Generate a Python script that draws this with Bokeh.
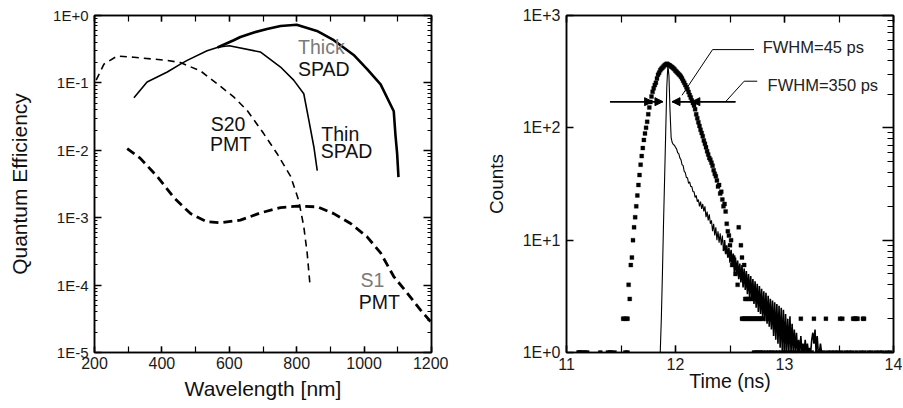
from bokeh.plotting import figure
from bokeh.layouts import row
from bokeh.models import (LinearAxis, LogAxis, Range1d, SingleIntervalTicker, LogTicker,
                          CustomJSTickFormatter, Arrow, NormalHead, Label)
from bokeh.embed import file_html
from bokeh.resources import INLINE

FONT = "Liberation Sans"

# ---------------- Left panel data: quantum efficiency vs wavelength ----------------
thin_spad_wl = [317, 356, 416, 455, 475, 534, 569, 600, 692, 752, 791, 821, 836, 851, 861]
thin_spad_qe = [0.06, 0.103, 0.145, 0.19, 0.216, 0.30, 0.34, 0.355, 0.288, 0.172, 0.11, 0.069, 0.028, 0.0112, 0.005]

thick_spad_wl = [565, 613, 633, 673, 712, 752, 800, 860, 910, 969, 1009, 1049, 1088, 1093, 1098, 1102]
thick_spad_qe = [0.335, 0.43, 0.48, 0.56, 0.63, 0.70, 0.73, 0.59, 0.43, 0.26, 0.16, 0.095, 0.038, 0.017, 0.009, 0.004]

s20_wl = [205, 228, 267, 317, 416, 455, 515, 564, 613, 653, 702, 742, 782, 806, 821, 831, 839]
s20_qe = [0.11, 0.19, 0.25, 0.24, 0.216, 0.2, 0.15, 0.097, 0.062, 0.039, 0.0177, 0.0089, 0.0041,
          0.0018, 0.00074, 0.0003, 0.000107]

s1_wl = [297, 336, 386, 435, 485, 534, 574, 633, 693, 752, 801, 861, 910, 960, 1009, 1049, 1088, 1128, 1167, 1197]
s1_qe = [0.0106, 0.0076, 0.0041, 0.002, 0.00115, 0.00087, 0.00084, 0.00092, 0.00118, 0.00141,
         0.00148, 0.00145, 0.00115, 0.00082, 0.00052, 0.0003, 0.000134, 0.000076, 0.000043, 0.0000288]

# label texts and anchor points (wavelength, QE)
left_labels = ["Thick", "SPAD", "S20", "PMT", "Thin", "SPAD", "S1", "PMT"]
left_label_x = [804, 804, 545, 543, 873, 871, 989, 984]
left_label_y = [0.34, 0.162, 0.0249, 0.0123, 0.0177, 0.0098, 0.000119, 0.000057]
left_label_gray = [True, False, False, False, False, False, True, False]

# ---------------- Right panel data: counts vs time ----------------
line_t0 = 11.86
line_step = 0.01
line_counts = [1, 2, 5, 14, 35, 90, 230, 362, 290, 140,
               82, 74, 71, 70, 67, 65, 60, 59, 54, 52,
               47, 46, 41, 40, 36, 36, 32, 33, 30, 30,
               27, 27, 24, 25, 22, 23, 20, 22, 19, 21,
               18, 20, 16, 18, 15, 17, 14, 15, 12, 14,
               11, 13, 10, 12, 9.5, 11.5, 9, 11, 8, 10,
               7.5, 9, 7, 8.5, 6.3, 8.2, 5.8, 7.6, 5.2, 7,
               4.9, 6.6, 4.5, 6.2, 4.2, 6, 3.8, 5.6, 3.6, 5.3,
               3.3, 5, 3.1, 4.8, 2.9, 4.5, 2.7, 4.3, 2.5, 4.1,
               2.3, 3.9, 2.2, 3.7, 2, 3.5, 1.9, 3.4, 1.8, 3.2,
               1.7, 3, 1.6, 2.9, 1.4, 2.8, 1.3, 2.7, 1.2, 2.6,
               1.1, 2.5, 1, 2.4, 1, 2.2, 1, 2, 1, 2.1,
               1, 1.8, 1, 1.6, 1, 1.5, 1, 1.3, 1, 1.4,
               1, 1.2, 1, 1.3, 1, 1.2, 1, 1.1, 1, 1.3,
               1.5, 1.2, 1.6, 1, 1.4, 1, 1, 1.2, 1, 1,
               1, 1, 1, 1, 1]
noisy_from = 12.44   # where the tail becomes a dense noisy band

dots_t = [11.52, 11.53, 11.55, 11.56, 11.57, 11.58, 11.59, 11.60, 11.61, 11.62,
          11.63, 11.64, 11.65, 11.66, 11.67, 11.68, 11.69, 11.70, 11.71, 11.72,
          11.73, 11.74, 11.75, 11.76, 11.77, 11.78, 11.79, 11.80, 11.81, 11.82,
          11.83, 11.84, 11.85, 11.86, 11.87, 11.88, 11.89, 11.90, 11.91, 11.92,
          11.93, 11.94, 11.95, 11.96, 11.97, 11.98, 11.99, 12.00, 12.01, 12.02,
          12.03, 12.04, 12.05, 12.06, 12.07, 12.08, 12.09, 12.10, 12.11, 12.12,
          12.13, 12.14, 12.15, 12.16, 12.17, 12.18, 12.19, 12.20, 12.21, 12.22,
          12.23, 12.24, 12.25, 12.26, 12.27, 12.28, 12.29, 12.30, 12.31, 12.32,
          12.33, 12.34, 12.35, 12.36, 12.37, 12.38, 12.39, 12.40, 12.41, 12.42,
          12.43, 12.44, 12.45, 12.46, 12.47, 12.48, 12.49, 12.50, 12.51, 12.52,
          12.53, 12.55, 12.57, 12.58, 12.60, 12.61, 12.63, 12.66,
          12.64, 12.65, 12.67, 12.68, 12.70, 12.72, 12.74, 12.76,
          12.61, 12.62, 12.63, 12.64, 12.65, 12.66, 12.67, 12.68, 12.69, 12.70,
          12.71, 12.72, 12.73, 12.74, 12.75, 12.76, 12.77, 12.78, 12.79, 12.80,
          12.85, 12.86, 12.87, 12.88, 13.15, 13.27, 13.38, 13.51, 13.53, 13.63,
          13.64, 13.65, 13.66, 13.67, 13.72, 13.73]
dots_c = [2, 2, 2, 2, 4, 3, 6, 7, 10, 13,
          16, 20, 25, 31, 38, 47, 56, 66, 78, 89,
          100, 113, 132, 152, 170, 190, 209, 225, 240, 252,
          275, 297, 310, 325, 335, 343, 352, 360, 366, 372,
          368, 362, 358, 352, 346, 340, 332, 322, 315, 308,
          300, 294, 285, 275, 262, 252, 240, 230, 220, 208,
          196, 186, 175, 166, 158, 146, 132, 122, 112, 104,
          96, 90, 84, 77, 72, 67, 62, 58, 54, 52,
          49, 46, 42, 39, 37, 34, 30, 31, 26, 27,
          23, 20, 21, 18, 14, 12, 11, 9, 10, 6,
          7, 5, 4, 13, 9, 7, 6, 4,
          3, 3, 3, 3, 3, 3, 3, 3,
          2, 2, 2, 2, 2, 2, 2, 2, 2, 2,
          2, 2, 2, 2, 2, 2, 2, 2, 2, 2,
          2, 2, 2, 2, 2, 2, 2, 2, 2, 2,
          2, 2, 2, 2, 2, 2]

base_t = [11.11, 11.12, 11.13, 11.15, 11.17, 11.19, 11.31, 11.38, 11.40, 11.41, 11.44, 11.54, 11.56,
          12.72, 12.74, 12.76, 12.78, 12.80, 12.83, 12.86, 12.88, 12.91, 12.94, 12.97, 13.00,
          13.03, 13.05, 13.08, 13.11, 13.14, 13.17, 13.20, 13.22, 13.25, 13.30, 13.33, 13.36,
          13.40, 13.43, 13.46, 13.49, 13.52, 13.56, 13.59, 13.62, 13.66, 13.70, 13.73, 13.77,
          13.80, 13.84, 13.87, 13.90, 13.94, 13.97]
base_c = [1] * len(base_t)

# FWHM annotation geometry (time, counts)
fwhm_level = 171
fwhm_arrows = [(11.40, 11.79), (11.79, 11.885), (12.55, 12.15), (12.15, 11.968)]
leader1_t = [12.72, 12.34, 12.06]
leader1_c = [497, 497, 195]
leader2_t = [12.75, 12.63, 12.46]
leader2_c = [260, 260, 171]
fwhm_texts = ["FWHM=45 ps", "FWHM=350 ps"]
fwhm_text_t = [12.80, 12.845]
fwhm_text_c = [527, 239]

sci_fmt = CustomJSTickFormatter(code="""
const e = Math.round(Math.log10(tick));
return '1E' + (e >= 0 ? '+' : '-') + Math.abs(e);
""")
blank_fmt = CustomJSTickFormatter(code="return '';")


def base_style(p):
    p.grid.visible = False
    p.outline_line_color = "black"
    p.outline_line_width = 1.5
    p.background_fill_color = "white"
    p.border_fill_color = "white"


def style_axis(ax, tick_font, major_in, minor_in, label_font=None, standoff=5, label_standoff=5):
    ax.axis_line_color = "black"
    ax.axis_line_width = 1.5
    ax.major_tick_line_color = "black"
    ax.major_tick_line_width = 1.5
    ax.minor_tick_line_color = "black" if minor_in > 0 else None
    ax.minor_tick_line_width = 1.2
    ax.major_tick_out = 0
    ax.major_tick_in = major_in
    ax.minor_tick_out = 0
    ax.minor_tick_in = minor_in
    ax.major_label_text_font = FONT
    ax.major_label_text_font_size = tick_font
    ax.major_label_text_color = "#1a1a1a"
    ax.major_label_standoff = standoff
    ax.axis_label_text_font = FONT
    ax.axis_label_text_font_style = "normal"
    if label_font:
        ax.axis_label_text_font_size = label_font
    ax.axis_label_text_color = "#111111"
    ax.axis_label_standoff = label_standoff


# ================= LEFT FIGURE =================
p1 = figure(width=448, height=405, output_backend="svg", toolbar_location=None,
            x_range=Range1d(200, 1200), y_range=Range1d(1e-5, 1), y_axis_type="log",
            min_border_left=94, min_border_right=17, min_border_top=15, min_border_bottom=53)
base_style(p1)

p1.xaxis.ticker = SingleIntervalTicker(interval=200, num_minor_ticks=2)
style_axis(p1.xaxis[0], "16px", 6, 6, "21px", standoff=4, label_standoff=5)
p1.xaxis.axis_label = "Wavelength [nm]"

p1.yaxis.ticker = LogTicker(num_minor_ticks=10, desired_num_ticks=6)
p1.yaxis.formatter = sci_fmt
style_axis(p1.yaxis[0], "15px", 7, 3, "21px", standoff=6, label_standoff=19)
p1.yaxis.axis_label = "Quantum Efficiency"

top1 = LinearAxis(ticker=SingleIntervalTicker(interval=200, num_minor_ticks=2), formatter=blank_fmt)
style_axis(top1, "0px", 6, 6, standoff=0, label_standoff=0)
p1.add_layout(top1, "above")
right1 = LogAxis(ticker=LogTicker(num_minor_ticks=10, desired_num_ticks=6), formatter=blank_fmt)
style_axis(right1, "0px", 8, 4, standoff=0, label_standoff=0)
p1.add_layout(right1, "right")

p1.line(thin_spad_wl, thin_spad_qe, line_color="black", line_width=1.6)
p1.line(thick_spad_wl, thick_spad_qe, line_color="black", line_width=2.6)
p1.line(s20_wl, s20_qe, line_color="black", line_width=1.6, line_dash="7 5")
p1.line(s1_wl, s1_qe, line_color="black", line_width=2.8, line_dash="9 5")

for txt, x, y, gray in zip(left_labels, left_label_x, left_label_y, left_label_gray):
    p1.add_layout(Label(x=x, y=y, text=txt, text_font=FONT, text_font_size="19.5px",
                        text_color="#7a7a7a" if gray else "#111111",
                        text_align="left", text_baseline="middle"))

# ================= RIGHT FIGURE =================
p2 = figure(width=454, height=405, output_backend="svg", toolbar_location=None,
            x_range=Range1d(11, 14), y_range=Range1d(1, 1000), y_axis_type="log",
            min_border_left=118, min_border_right=9, min_border_top=15, min_border_bottom=48)
base_style(p2)

p2.xaxis.ticker = SingleIntervalTicker(interval=1, num_minor_ticks=2)
style_axis(p2.xaxis[0], "16px", 7, 7, "19.5px", standoff=5, label_standoff=-3)
p2.xaxis.axis_label = "Time (ns)"

p2.yaxis.ticker = LogTicker(num_minor_ticks=10, desired_num_ticks=4)
p2.yaxis.formatter = sci_fmt
style_axis(p2.yaxis[0], "16px", 7, 0, "19px", standoff=6, label_standoff=13)
p2.yaxis.axis_label = "Counts"

top2 = LinearAxis(ticker=SingleIntervalTicker(interval=1, num_minor_ticks=2), formatter=blank_fmt)
style_axis(top2, "0px", 7, 7, standoff=0, label_standoff=0)
p2.add_layout(top2, "above")
right2 = LogAxis(ticker=LogTicker(num_minor_ticks=10, desired_num_ticks=4), formatter=blank_fmt)
style_axis(right2, "0px", 11, 6, standoff=0, label_standoff=0)
p2.add_layout(right2, "right")

line_t = [round(line_t0 + line_step * i, 2) for i in range(len(line_counts))]
split = next(i for i, t in enumerate(line_t) if t >= noisy_from)
p2.line(line_t[:split + 1], line_counts[:split + 1], line_color="black", line_width=1.1)
p2.line(line_t[split:], line_counts[split:], line_color="black", line_width=1.6)

p2.scatter(dots_t + base_t, dots_c + base_c, marker="square", size=4,
           fill_color="black", line_color="black", line_width=0.3)

# FWHM arrows
p2.line([fwhm_arrows[0][0], fwhm_arrows[1][1]], [fwhm_level, fwhm_level], line_color="black", line_width=1.5)
p2.line([fwhm_arrows[2][0], fwhm_arrows[3][1]], [fwhm_level, fwhm_level], line_color="black", line_width=1.5)
for xs, xe in fwhm_arrows:
    p2.add_layout(Arrow(x_start=xs, y_start=fwhm_level, x_end=xe, y_end=fwhm_level,
                        line_color="black", line_width=1.5,
                        end=NormalHead(size=8, fill_color="black", line_color="black", line_width=1)))

p2.line(leader1_t, leader1_c, line_color="black", line_width=1)
p2.line(leader2_t, leader2_c, line_color="black", line_width=1)
for txt, x, y in zip(fwhm_texts, fwhm_text_t, fwhm_text_c):
    p2.add_layout(Label(x=x, y=y, text=txt, text_font=FONT, text_font_size="16.5px",
                        text_color="#222222", text_align="left", text_baseline="middle"))

layout = row(p1, p2)
open("out.html", "w").write(file_html(layout, INLINE))
